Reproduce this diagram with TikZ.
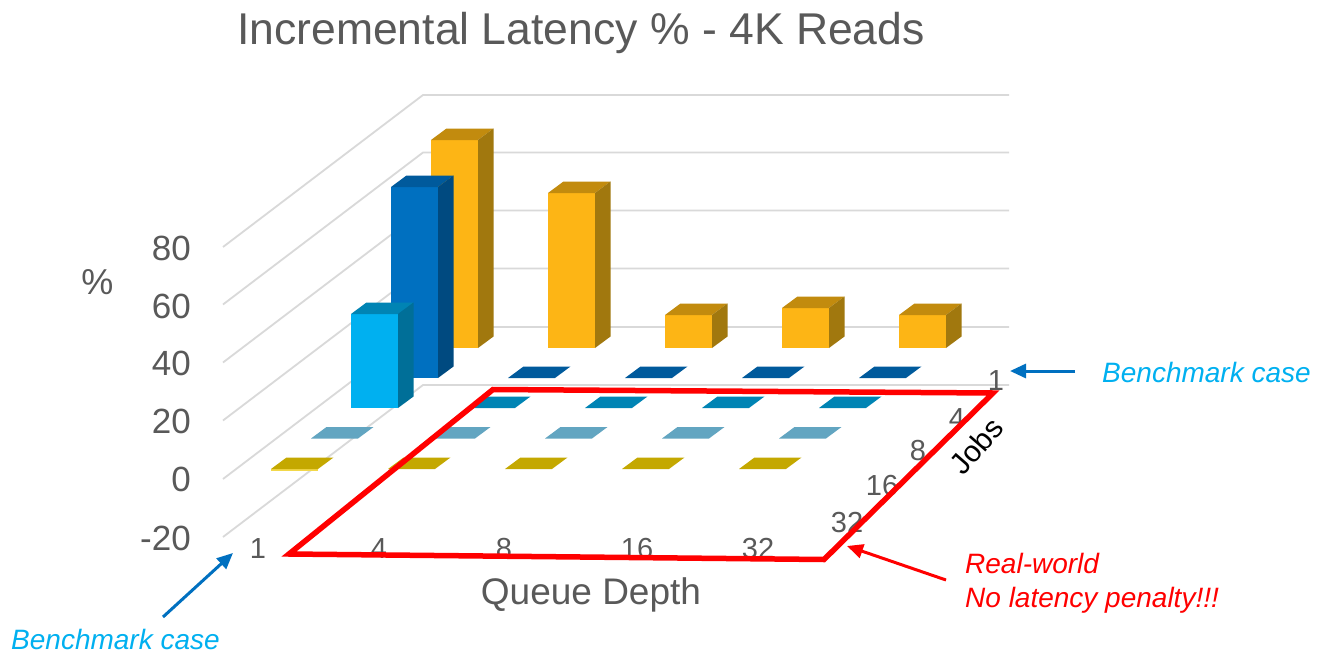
\documentclass[tikz,border=0pt]{standalone}
\usepackage{fontspec}
\setmainfont{Liberation Sans}
\usetikzlibrary{arrows.meta}

% palette
\definecolor{txtgray}{HTML}{595959}
\definecolor{gridgray}{HTML}{D9D9D9}
\definecolor{yelF}{HTML}{FDB515}
\definecolor{yelT}{HTML}{C28B0E}
\definecolor{yelS}{HTML}{A1780E}
\definecolor{dbF}{HTML}{0070C0}
\definecolor{dbT}{HTML}{005A9C}
\definecolor{dbS}{HTML}{004A80}
\definecolor{lbF}{HTML}{00B0F0}
\definecolor{lbT}{HTML}{0084B4}
\definecolor{lbS}{HTML}{006F98}
\definecolor{gbT}{HTML}{62A5C1}
\definecolor{olT}{HTML}{C4A800}
\definecolor{olF}{HTML}{F2D84A}
\definecolor{callblue}{HTML}{0070C0}
\definecolor{calltext}{HTML}{00B0F0}
\definecolor{hotred}{HTML}{FF0000}

\newcommand{\pxfont}[1]{\fontsize{#1}{#1}\selectfont}
% 3D column: x0, bottom y, top y, front, top, side colours
\newcommand{\chartbar}[6]{%
  \fill[#4] (#1,#2) rectangle (#1+47,#3);
  \fill[#5] (#1,#3) -- (#1+47,#3) -- (#1+62.5,#3-11.5) -- (#1+15.5,#3-11.5) -- cycle;
  \fill[#6] (#1+47,#2) -- (#1+47,#3) -- (#1+62.5,#3-11.5) -- (#1+62.5,#2-11.5) -- cycle;}
% zero-height column: only its top face shows
\newcommand{\flattile}[3]{%
  \fill[#3] (#1,#2) -- (#1+47,#2) -- (#1+62.5,#2-11.5) -- (#1+15.5,#2-11.5) -- cycle;}

\begin{document}
\begin{tikzpicture}[x=1pt,y=-1pt,
  gridline/.style={draw=gridgray, line width=1.8pt},
  axislabel/.style={text=txtgray, inner sep=0pt, anchor=base east, font=\pxfont{35}},
  catlabel/.style={text=txtgray, inner sep=0pt, anchor=base, font=\pxfont{29}},
  callout/.style={line width=3pt, -{Triangle[length=16pt,width=14pt]}},
  note/.style={inner sep=0pt, anchor=base west, font=\pxfont{28}\itshape}]

\useasboundingbox (0,0) rectangle (1317,653);
\fill[white] (0,0) rectangle (1317,653);

% back wall and side wall grid
\foreach \gy in {95,152.5,210.5,268.5,327,385}
  {\draw[gridline] (1009,\gy) -- (423,\gy) -- (223,\gy+152);}

% row: Jobs 1
\chartbar{431}{348}{140}{yelF}{yelT}{yelS}
\chartbar{548}{348}{193}{yelF}{yelT}{yelS}
\chartbar{665}{348}{315}{yelF}{yelT}{yelS}
\chartbar{782}{348}{308}{yelF}{yelT}{yelS}
\chartbar{899}{348}{315}{yelF}{yelT}{yelS}
% row: Jobs 4
\chartbar{391}{378}{187}{dbF}{dbT}{dbS}
\foreach \i in {1,...,4} {\flattile{391+117*\i}{378}{dbT}}
% row: Jobs 8
\chartbar{351}{408}{314}{lbF}{lbT}{lbS}
\foreach \i in {1,...,4} {\flattile{351+117*\i}{408}{lbT}}
% row: Jobs 16
\foreach \i in {0,...,4} {\flattile{311+117*\i}{438.5}{gbT}}
% row: Jobs 32
\fill[olF] (271,468.5) rectangle (318,470.5);
\foreach \i in {0,...,4} {\flattile{271+117*\i}{469}{olT}}

% title
\node[text=txtgray, inner sep=0pt, anchor=base, font=\pxfont{44.5}] (title) at (581,44) {Incremental Latency \% - 4K Reads};

% value axis
\node[axislabel] (v80) at (191,260) {80};
\node[axislabel] (v60) at (191,318) {60};
\node[axislabel] (v40) at (191,375) {40};
\node[axislabel] (v20) at (191,433) {20};
\node[axislabel] (v0) at (191,491.5) {0};
\node[axislabel] (vm20) at (191,550) {-20};
\node[text=txtgray, inner sep=0pt, anchor=base, font=\pxfont{36}] (pct) at (97.5,294) {\%};

% queue depth axis
\node[catlabel] (q1) at (258,558) {1};
\node[catlabel] (q4) at (379,558) {4};
\node[catlabel] (q8) at (504,558) {8};
\node[catlabel] (q16) at (637,558) {16};
\node[catlabel] (q32) at (758,558) {32};
\node[text=txtgray, inner sep=0pt, anchor=base, font=\pxfont{37}] (qd) at (591,604) {Queue Depth};

% jobs axis
\node[catlabel] (j1) at (996,390) {1};
\node[catlabel] (j4) at (957,428.5) {4};
\node[catlabel] (j8) at (918,460) {8};
\node[catlabel] (j16) at (882,495) {16};
\node[catlabel] (j32) at (847,532) {32};
\node[text=black, inner sep=0pt, rotate=49, font=\pxfont{30}] (jobs) at (976,446) {Jobs};

% real-world region
\draw[hotred, line width=5.5pt] (289,554) -- (493,389.5) -- (993,393) -- (824,559.5) -- cycle;

% call-outs
\node[note, text=calltext] (benchR) at (1102,382) {Benchmark case};
\node[note, text=calltext] (benchL) at (11,649) {Benchmark case};
\node[note, text=hotred] (real1) at (965,573) {Real-world};
\node[note, text=hotred] (real2) at (965,607) {No latency penalty!!!};

\coordinate (bRtail) at (1075,371);
\coordinate (bRtip) at (1010,371);
\coordinate (bLtail) at (163,617);
\coordinate (bLtip) at (233,553);
\coordinate (rtail) at (946,580);
\coordinate (rtip) at (847,546);
\draw[callout, callblue] (bRtail) -- (bRtip);
\draw[callout, callblue] (bLtail) -- (bLtip);
\draw[callout, hotred] (rtail) -- (rtip);
\end{tikzpicture}
\end{document}
